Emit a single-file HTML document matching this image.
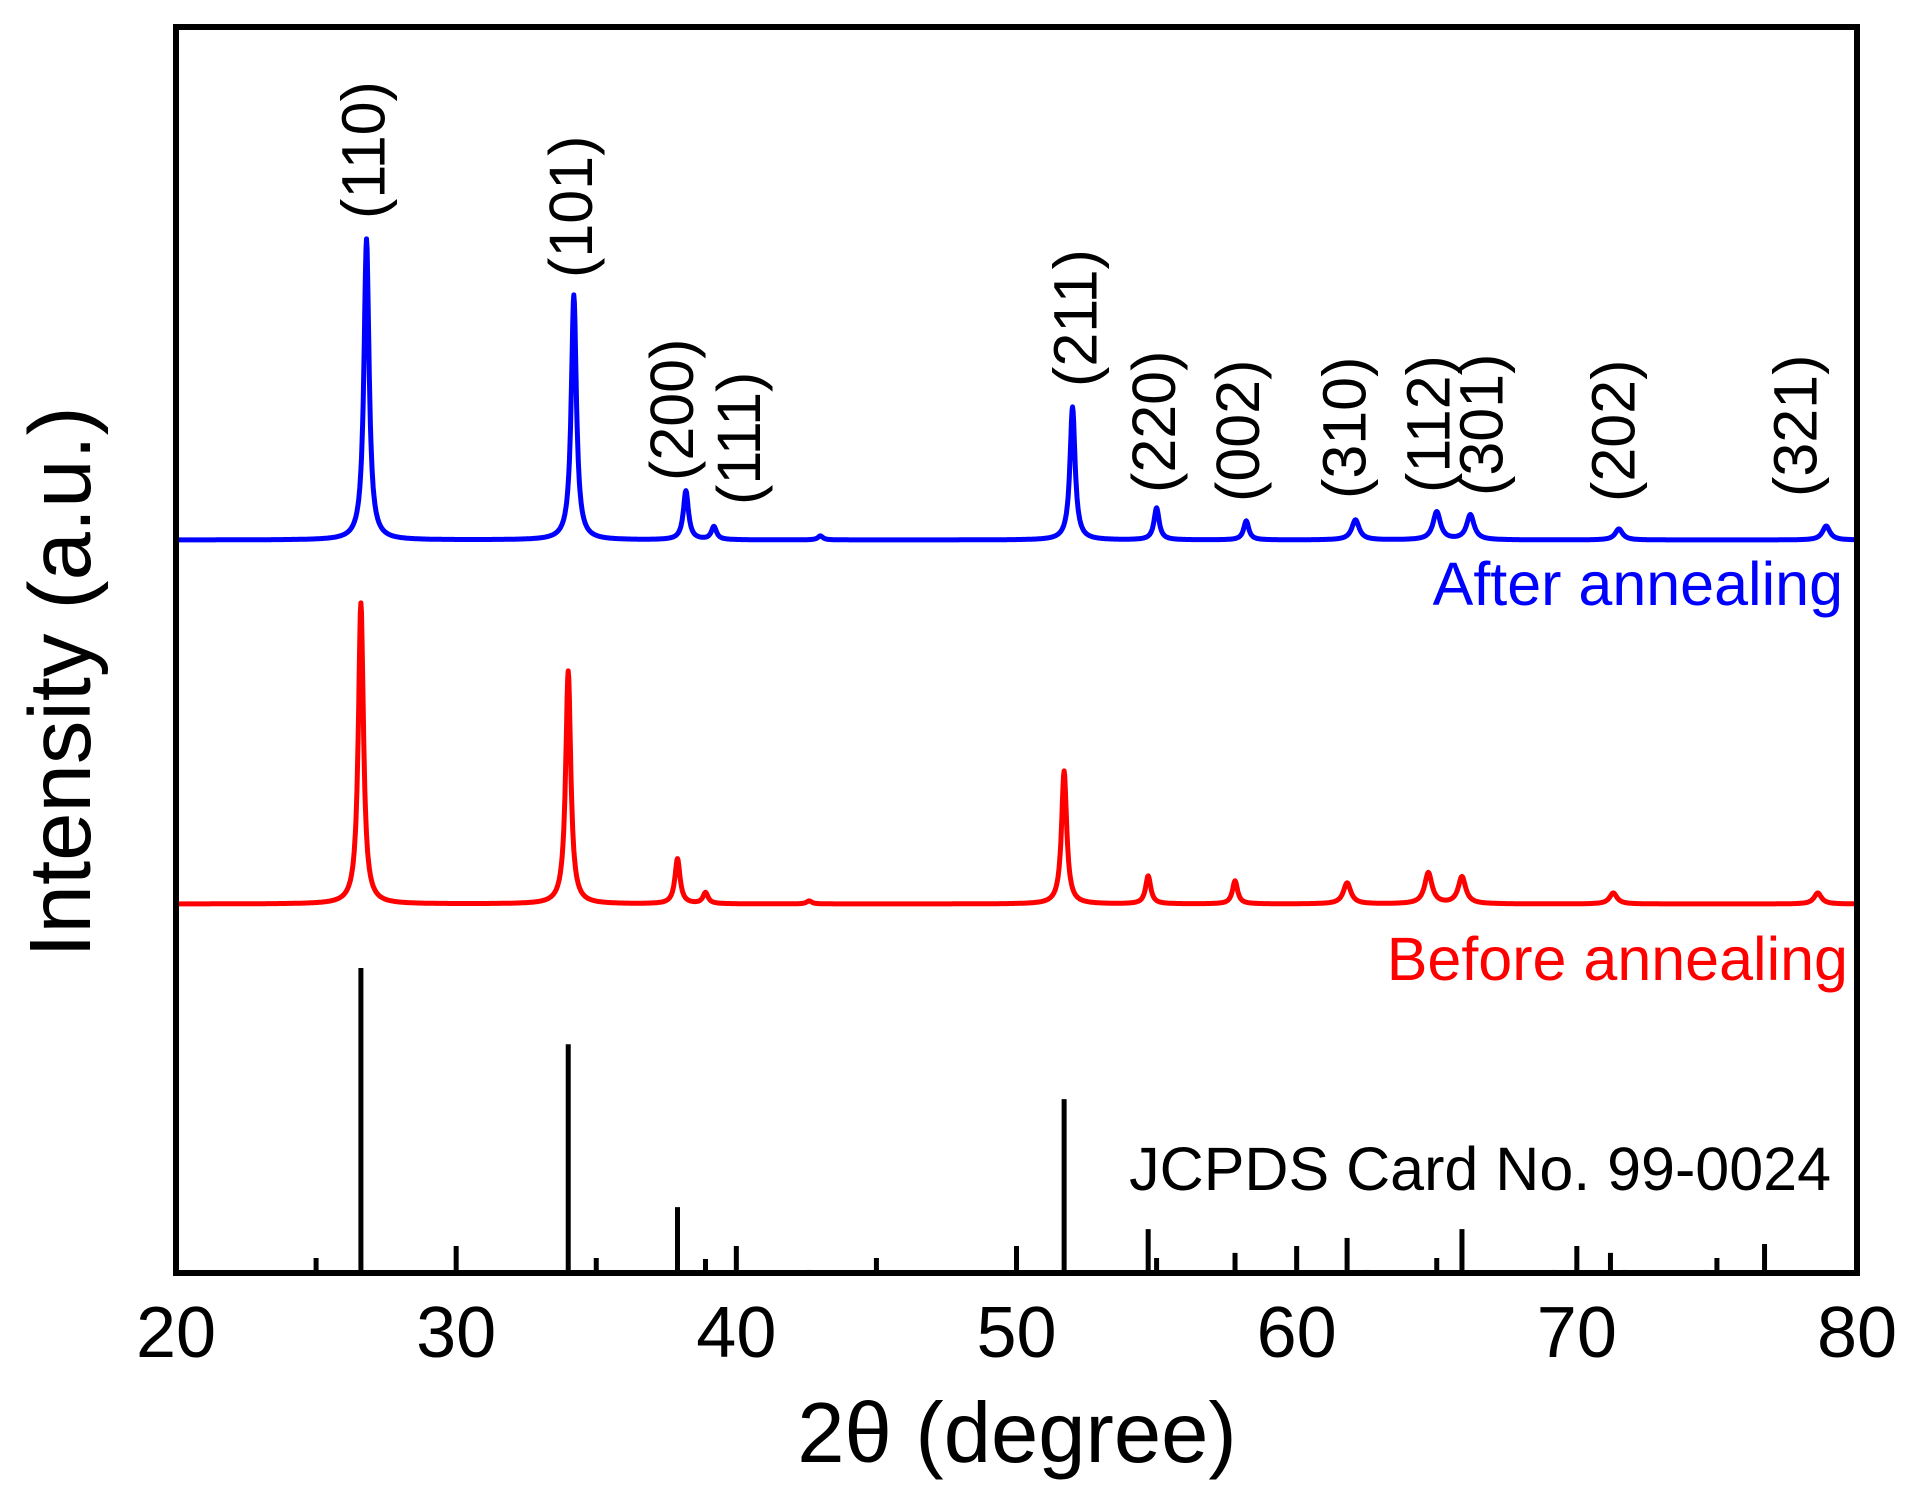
<!DOCTYPE html>
<html><head><meta charset="utf-8"><style>
html,body{margin:0;padding:0;background:#fff;}
svg{display:block;font-family:"Liberation Sans",Arial,sans-serif;}
</style></head><body>
<svg id="chart" width="1910" height="1503" viewBox="0 0 1910 1503" xmlns="http://www.w3.org/2000/svg">
<g id="plot"></g>
<rect x="176" y="27" width="1681" height="1246" fill="none" stroke="#000" stroke-width="6"/>
<g id="ticks"></g>
<g id="labels" font-size="61" fill="#000"></g>
<text x="1843" y="605" font-size="61" fill="#0000ff" text-anchor="end">After annealing</text>
<text x="1848" y="980" font-size="61" fill="#ff0000" text-anchor="end">Before annealing</text>
<text x="1831" y="1190" font-size="61" fill="#000" text-anchor="end">JCPDS Card No. 99-0024</text>
<text x="1017" y="1462" font-size="85" text-anchor="middle">2θ (degree)</text>
<text transform="translate(90,682) rotate(-90)" font-size="87" text-anchor="middle">Intensity (a.u.)</text>
</svg>
<script>
const xTicks=[20,30,40,50,60,70,80];
const xMinorTicks=[25,35,45,55,65,75];
const afterPos=[26.8,34.2,38.2,39.2,43.0,52.0,55.0,58.2,62.1,65.0,66.2,71.5,78.9];
const afterInt=[301,245,49,13,4,133,32,19,20,28,25,11,14];
const beforePos=[26.6,34.0,37.9,38.9,42.6,51.7,54.7,57.8,61.8,64.7,65.9,71.3,78.6];
const beforeInt=[301,233,45,11,3,133,28,23,21,31,27,11,11];
const refPos=[26.6,34.0,37.9,38.9,42.6,51.7,54.7,57.8,61.8,62.5,65.9,69.2,71.2,71.7,74.6,76.7];
const refInt=[100,75,21.6,4.6,1,57,14.4,6.6,11.5,1,14.4,1,6.6,1,1,9.5];
const hklLabels=["(110)","(101)","(200)","(111)","(211)","(220)","(002)","(310)","(112)","(301)","(202)","(321)"];
const hklPos=[26.7,34.1,37.7,40.1,52.1,54.9,57.9,61.7,64.7,66.6,71.3,77.8];
const hklBottomY=[219,278,481,505,387,493,502,499,493,496,502,497];
const afterOffset=733, beforeOffset=369;

const NS="http://www.w3.org/2000/svg";
const X0=176,X1=1857,Y0=1273,Y1=27;
const xs=v=>X0+(v-20)*(X1-X0)/60;
const ys=v=>Y0-v;
const refScale=3.05;
function mk(t,a,p){const e=document.createElementNS(NS,t);for(const k in a)e.setAttribute(k,a[k]);p.appendChild(e);return e;}
const plot=document.getElementById('plot');
function curve(pos,ints,off,color,name){
  let d='';
  for(let t=20;t<=80.0001;t+=0.02){
    let v=off;
    for(let i=0;i<pos.length;i++){const w=pos[i]>60?0.16:0.11;const dx=(t-pos[i])/w;v+=ints[i]/(1+dx*dx);}
    d+=(d?'L':'M')+xs(t).toFixed(1)+' '+ys(v).toFixed(1);
  }
  const p=mk('path',{d:d,fill:'none',stroke:color,'stroke-width':5,'stroke-linejoin':'round'},plot);
  
  
}
curve(afterPos,afterInt,afterOffset,'#0000ff','after-annealing-curve');
curve(beforePos,beforeInt,beforeOffset,'#ff0000','before-annealing-curve');
refPos.forEach((p,i)=>{
  const l=mk('line',{x1:xs(p),x2:xs(p),y1:Y0,y2:ys(refInt[i]*refScale),stroke:'#000','stroke-width':5},plot);
  
  
});
const tk=document.getElementById('ticks');
xTicks.forEach(v=>{
  const l=mk('line',{x1:xs(v),x2:xs(v),y1:Y0,y2:Y0-27,stroke:'#000','stroke-width':5},tk);
  
  
  const t=mk('text',{x:xs(v),y:1357,'font-size':72,'text-anchor':'middle'},tk);
  t.textContent=v;
  
  
});
xMinorTicks.forEach(v=>{
  const l=mk('line',{x1:xs(v),x2:xs(v),y1:Y0,y2:Y0-15,stroke:'#000','stroke-width':5},tk);
  
  
});
const lb=document.getElementById('labels');
hklLabels.forEach((s,i)=>{
  const x=xs(hklPos[i])+21;
  const t=mk('text',{transform:`translate(${x},${hklBottomY[i]}) rotate(-90)`},lb);
  t.textContent=s;
  
  
});
</script>
</body></html>
